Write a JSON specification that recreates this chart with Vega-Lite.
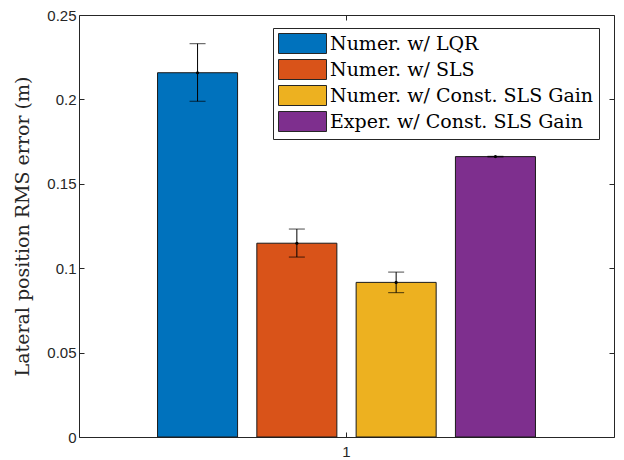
{
  "$schema": "https://vega.github.io/schema/vega-lite/v6.json",
  "width": 535,
  "height": 422,
  "autosize": "none",
  "padding": {"left": 79, "top": 15, "right": 10, "bottom": 23},
  "background": "white",
  "config": {
    "view": {"stroke": "#262626", "strokeWidth": 1},
    "font": "Liberation Sans",
    "axis": {"domain": false, "grid": false, "tickColor": "#262626", "labelColor": "#262626", "labelFont": "Liberation Sans", "labelFontSize": 15, "tickSize": -5, "tickWidth": 1}
  },
  "data": {
    "values": [
      {"g": "1", "series": "Numer. w/ LQR", "v": 0.2158, "lo": 0.1989, "hi": 0.2330},
      {"g": "1", "series": "Numer. w/ SLS", "v": 0.1148, "lo": 0.1066, "hi": 0.1232},
      {"g": "1", "series": "Numer. w/ Const. SLS Gain", "v": 0.0916, "lo": 0.0855, "hi": 0.0977},
      {"g": "1", "series": "Exper. w/ Const. SLS Gain", "v": 0.1661, "lo": 0.1659, "hi": 0.1663}
    ]
  },
  "resolve": {"axis": {"x": "independent", "y": "independent"}},
  "layer": [
    {
      "mark": {"type": "bar", "stroke": "#1a1a1a", "strokeWidth": 1},
      "encoding": {
        "x": {"field": "g", "type": "nominal", "scale": {"paddingInner": 0, "paddingOuter": 0}, "axis": {"title": null, "labelAngle": 0, "labelPadding": 12, "orient": "bottom"}},
        "xOffset": {"field": "series", "type": "nominal", "sort": ["Numer. w/ LQR", "Numer. w/ SLS", "Numer. w/ Const. SLS Gain", "Exper. w/ Const. SLS Gain"], "scale": {"paddingInner": 0.194, "paddingOuter": 0.791}},
        "y": {"field": "v", "type": "quantitative", "scale": {"domain": [0, 0.25], "nice": false}, "axis": {"orient": "left", "values": [0, 0.05, 0.1, 0.15, 0.2, 0.25], "format": "~g", "labelPadding": 8, "title": "Lateral position RMS error (m)", "titleFont": "DejaVu Serif", "titleFontSize": 19, "titleFontWeight": "normal", "titleColor": "#262626", "titlePadding": 14}},
        "fill": {
          "field": "series", "type": "nominal",
          "scale": {"domain": ["Numer. w/ LQR", "Numer. w/ SLS", "Numer. w/ Const. SLS Gain", "Exper. w/ Const. SLS Gain"], "range": ["#0072BD", "#D95319", "#EDB120", "#7E2F8E"]},
          "legend": {"title": null, "orient": "none", "legendX": 194, "legendY": 13, "direction": "vertical", "strokeColor": "#262626", "fillColor": "white", "padding": 5, "labelFont": "DejaVu Serif", "labelFontSize": 19, "labelColor": "#000000", "labelOffset": 31, "symbolType": "M-1,-1H3.8V1H-1Z", "symbolSize": 400, "symbolStrokeColor": "#262626", "symbolStrokeWidth": 1, "symbolOpacity": 1, "rowPadding": 1, "labelLimit": 400}
        }
      }
    },
    {
      "mark": {"type": "rule", "color": "black", "strokeWidth": 1},
      "encoding": {
        "x": {"field": "g", "type": "nominal", "axis": {"orient": "top", "labels": false, "title": null}},
        "xOffset": {"field": "series", "type": "nominal", "sort": ["Numer. w/ LQR", "Numer. w/ SLS", "Numer. w/ Const. SLS Gain", "Exper. w/ Const. SLS Gain"]},
        "y": {"field": "lo", "type": "quantitative", "axis": {"orient": "right", "labels": false, "title": null, "values": [0, 0.05, 0.1, 0.15, 0.2, 0.25]}},
        "y2": {"field": "hi"}
      }
    },
    {
      "mark": {"type": "tick", "color": "black", "size": 16, "thickness": 1},
      "encoding": {
        "x": {"field": "g", "type": "nominal", "axis": null},
        "xOffset": {"field": "series", "type": "nominal", "sort": ["Numer. w/ LQR", "Numer. w/ SLS", "Numer. w/ Const. SLS Gain", "Exper. w/ Const. SLS Gain"]},
        "y": {"field": "lo", "type": "quantitative", "axis": null}
      }
    },
    {
      "mark": {"type": "tick", "color": "black", "size": 16, "thickness": 1},
      "encoding": {
        "x": {"field": "g", "type": "nominal", "axis": null},
        "xOffset": {"field": "series", "type": "nominal", "sort": ["Numer. w/ LQR", "Numer. w/ SLS", "Numer. w/ Const. SLS Gain", "Exper. w/ Const. SLS Gain"]},
        "y": {"field": "hi", "type": "quantitative", "axis": null}
      }
    },
    {
      "mark": {"type": "point", "filled": true, "color": "black", "size": 10, "opacity": 1},
      "encoding": {
        "x": {"field": "g", "type": "nominal", "axis": null},
        "xOffset": {"field": "series", "type": "nominal", "sort": ["Numer. w/ LQR", "Numer. w/ SLS", "Numer. w/ Const. SLS Gain", "Exper. w/ Const. SLS Gain"]},
        "y": {"field": "v", "type": "quantitative", "axis": null}
      }
    }
  ]
}
